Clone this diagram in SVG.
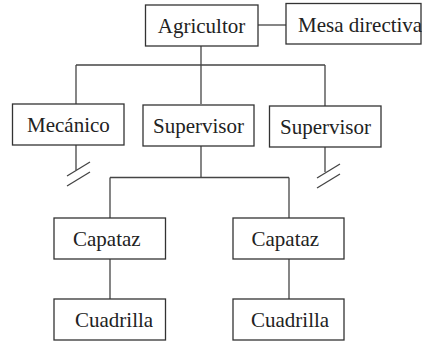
<svg xmlns="http://www.w3.org/2000/svg" width="422" height="341" viewBox="0 0 422 341">
<style>
.box{fill:#fff;stroke:#333;stroke-width:1.3}
text{font-family:'Liberation Serif','Times New Roman','DejaVu Serif',serif;font-size:21px;fill:#222}
.c line{stroke:#444;stroke-width:1.3}
</style>
<rect width="422" height="341" fill="#fff"/>
<g id="connectors" class="c">
<line x1="258" y1="25" x2="286" y2="25"/>
<line x1="201" y1="46" x2="201" y2="104"/>
<line x1="76" y1="65" x2="325" y2="65"/>
<line x1="76" y1="65" x2="76" y2="104"/>
<line x1="325" y1="65" x2="325" y2="106"/>
<line x1="76" y1="145" x2="76" y2="170"/>
<line x1="90" y1="162" x2="67" y2="176"/>
<line x1="90" y1="172" x2="67" y2="186"/>
<line x1="325" y1="147" x2="325" y2="172"/>
<line x1="340" y1="164" x2="317" y2="178"/>
<line x1="340" y1="174" x2="317" y2="188"/>
<line x1="201" y1="146" x2="201" y2="177.5"/>
<line x1="110" y1="177.5" x2="289" y2="177.5"/>
<line x1="110" y1="177.5" x2="110" y2="218"/>
<line x1="289" y1="177.5" x2="289" y2="218"/>
<line x1="110" y1="259" x2="110" y2="299"/>
<line x1="289" y1="259" x2="289" y2="299"/>
</g>
<g id="agricultor"><rect class="box" x="145.5" y="5" width="112.5" height="41"/><text x="201.5" y="33" text-anchor="middle">Agricultor</text></g>
<g id="mesa"><rect class="box" x="286" y="3.5" width="135" height="40.5"/><text x="298" y="32">Mesa directiva</text></g>
<g id="mecanico"><rect class="box" x="12.5" y="104" width="111.5" height="41"/><text x="27" y="132">Mecánico</text></g>
<g id="supervisor1"><rect class="box" x="143" y="105" width="111" height="41"/><text x="153" y="132.5">Supervisor</text></g>
<g id="supervisor2"><rect class="box" x="269.5" y="106" width="111.5" height="41"/><text x="280" y="133.5">Supervisor</text></g>
<g id="capataz1"><rect class="box" x="54" y="218" width="111.5" height="41"/><text x="73" y="246">Capataz</text></g>
<g id="capataz2"><rect class="box" x="233" y="218" width="111" height="41"/><text x="251.5" y="245.5">Capataz</text></g>
<g id="cuadrilla1"><rect class="box" x="54" y="299" width="111.5" height="41"/><text x="75" y="327">Cuadrilla</text></g>
<g id="cuadrilla2"><rect class="box" x="233" y="299" width="111" height="41"/><text x="251" y="327">Cuadrilla</text></g>
</svg>
